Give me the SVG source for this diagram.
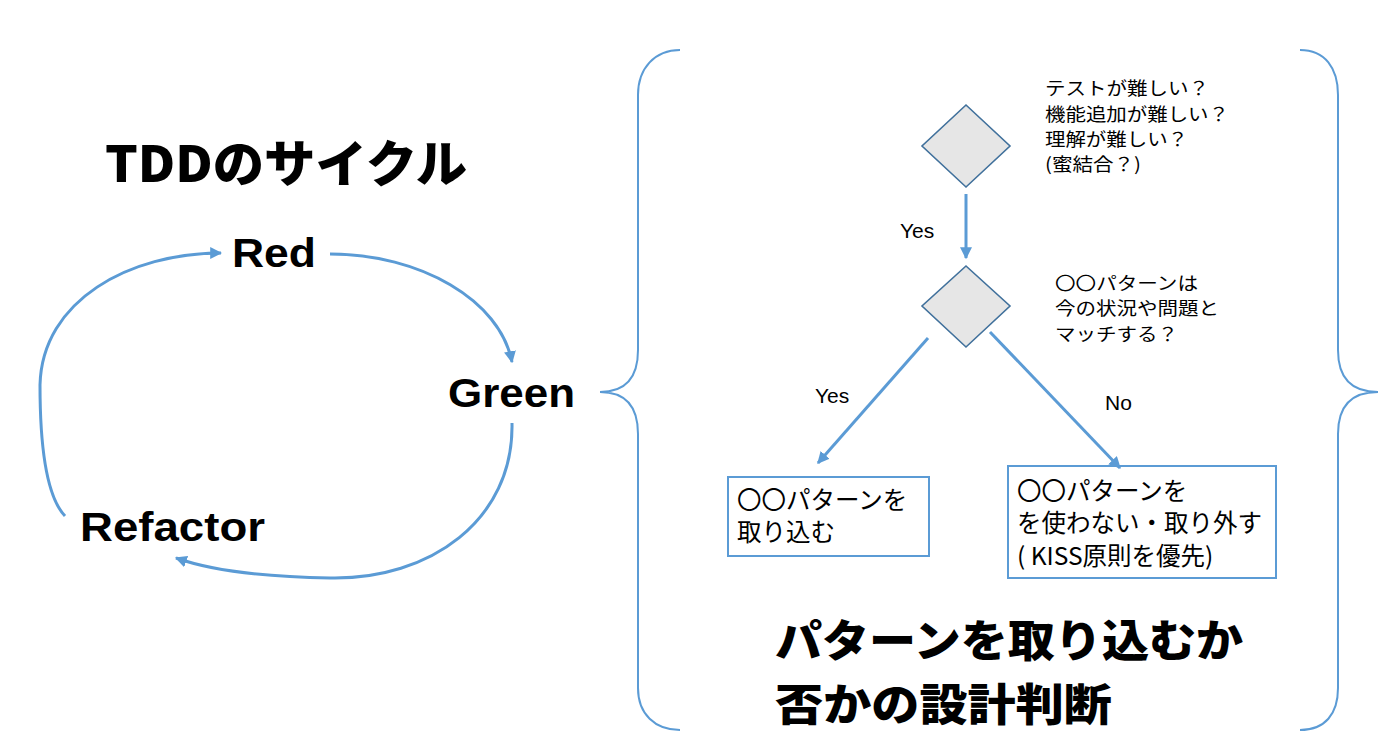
<svg xmlns="http://www.w3.org/2000/svg" width="1400" height="743" viewBox="0 0 1400 743">
<defs>
<style>
.h{font-family:"Liberation Sans","Noto Sans CJK JP",sans-serif;font-weight:bold;fill:#000}
.q{font-family:"Noto Sans CJK JP",sans-serif;font-size:18px;fill:#000}
.bx{font-family:"Noto Sans CJK JP",sans-serif;font-size:24.5px;fill:#000}
.big{font-family:"Noto Sans CJK JP",sans-serif;font-weight:900;fill:#000}
.lbl{font-family:"Liberation Sans","Noto Sans CJK JP",sans-serif;font-size:21px;fill:#000}
.conn{fill:none;stroke:#5B9BD5;stroke-width:3}
.brace{fill:none;stroke:#5B9BD5;stroke-width:2}
.dia{fill:#E6E6E6;stroke:#41719C;stroke-width:1.6}
.box{fill:#fff;stroke:#5B9BD5;stroke-width:2}
</style>
<marker id="ah" viewBox="0 0 10 10" refX="9" refY="5" markerWidth="4" markerHeight="4" orient="auto" markerUnits="strokeWidth">
<path d="M0,0 L10,5 L0,10 z" fill="#5B9BD5"/>
</marker>
</defs>
<rect width="1400" height="743" fill="#fff"/>

<g id="title-tdd"><text class="big" x="105" y="182" font-size="50" textLength="362" lengthAdjust="spacingAndGlyphs">TDDのサイクル</text></g>
<g id="node-red"><text class="h" x="232" y="267" font-size="40" textLength="84" lengthAdjust="spacingAndGlyphs">Red</text></g>
<g id="node-green"><text class="h" x="448" y="407" font-size="40" textLength="127" lengthAdjust="spacingAndGlyphs">Green</text></g>
<g id="node-refactor"><text class="h" x="80" y="541" font-size="40" textLength="185" lengthAdjust="spacingAndGlyphs">Refactor</text></g>

<g id="brace-left"><path class="brace" d="M680,50 C655,50 638,68 638,95 L638,350 C638,378 625,392 600,392 C625,392 638,406 638,434 L638,688 C638,714 655,730 680,730"/></g>
<g id="brace-right"><path class="brace" d="M1300,50 C1325,50 1338,68 1338,95 L1338,350 C1338,378 1352,392 1378,392 C1352,392 1338,406 1338,434 L1338,688 C1338,714 1325,730 1300,730"/></g>

<g id="decision-1">
<polygon class="dia" points="966,105 1010,146 966,187 922,146"/>
<text class="q" x="1045" y="95" textLength="164" lengthAdjust="spacingAndGlyphs">テストが難しい？</text>
<text class="q" x="1045" y="121" textLength="184" lengthAdjust="spacingAndGlyphs">機能追加が難しい？</text>
<text class="q" x="1045" y="146" textLength="143" lengthAdjust="spacingAndGlyphs">理解が難しい？</text>
<text class="q" x="1045" y="171" textLength="96" lengthAdjust="spacingAndGlyphs">(蜜結合？)</text>
</g>
<g id="decision-2">
<polygon class="dia" points="966,266 1010,306 966,347 922,306"/>
<text class="q" x="1055" y="290" textLength="143" lengthAdjust="spacingAndGlyphs">〇〇パターンは</text>
<text class="q" x="1055" y="315" textLength="164" lengthAdjust="spacingAndGlyphs">今の状況や問題と</text>
<text class="q" x="1055" y="341" textLength="123" lengthAdjust="spacingAndGlyphs">マッチする？</text>
</g>
<g id="box-adopt">
<rect class="box" x="728" y="477" width="201" height="79"/>
<text class="bx" x="737" y="509">〇〇パターンを</text>
<text class="bx" x="737" y="541">取り込む</text>
</g>
<g id="box-reject">
<rect class="box" x="1008" y="466" width="268" height="112"/>
<text class="bx" x="1017" y="500">〇〇パターンを</text>
<text class="bx" x="1017" y="532">を使わない・取り外す</text>
<text class="bx" x="1017" y="565">( KISS原則を優先)</text>
</g>
<g id="title-decision">
<text class="big" font-size="44" x="775" y="657" textLength="468" lengthAdjust="spacingAndGlyphs">パターンを取り込むか</text>
<text class="big" font-size="44" x="775" y="721" textLength="337" lengthAdjust="spacingAndGlyphs">否かの設計判断</text>
</g>

<g id="connectors">
<path class="conn" marker-end="url(#ah)" d="M330,254 C420,254 500,300 512,362"/>
<path class="conn" marker-end="url(#ah)" d="M512,423 C514,520 430,580 330,578 C260,577 210,570 176,558"/>
<path class="conn" marker-end="url(#ah)" d="M65,516 C45,495 40,440 40,385 C42,300 130,253 221,253"/>
<path class="conn" marker-end="url(#ah)" d="M966,194 L966,258"/>
<path class="conn" marker-end="url(#ah)" d="M928,338 L818,463"/>
<path class="conn" marker-end="url(#ah)" d="M990,332 L1120,468"/>
<text class="lbl" x="900" y="238">Yes</text>
<text class="lbl" x="815" y="403">Yes</text>
<text class="lbl" x="1105" y="410">No</text>
</g>
</svg>
